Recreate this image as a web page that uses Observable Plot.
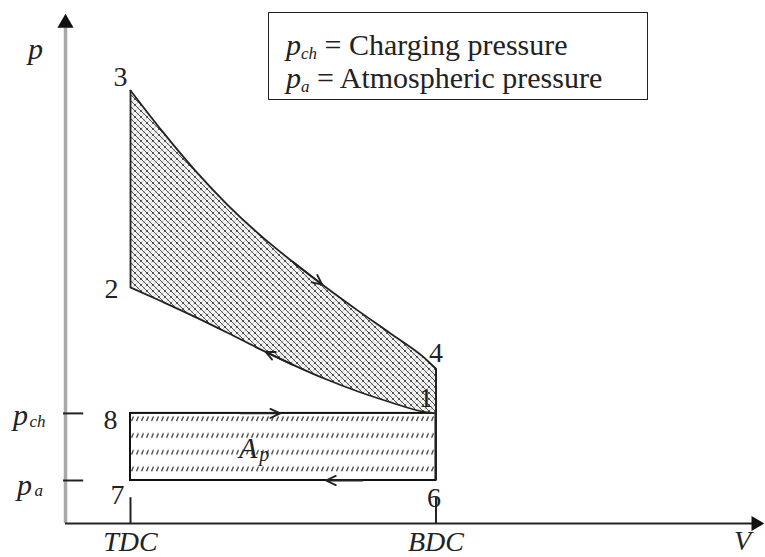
<!DOCTYPE html>
<html>
<head>
<meta charset="utf-8">
<script src="https://cdn.jsdelivr.net/npm/d3@7"></script>
<script src="https://cdn.jsdelivr.net/npm/@observablehq/plot@0.6"></script>
<style>
  body { margin: 0; background: #fff; }
  #wrap { position: relative; width: 765px; height: 557px; }
  #legend {
    position: absolute; left: 268px; top: 12px; width: 380px; height: 88px;
    border: 1.6px solid #222; box-sizing: border-box;
    font-family: "Liberation Serif", "Times New Roman", serif; font-size: 30px;
    line-height: 33px; padding: 15px 0 0 17px; color: #222; white-space: nowrap;
  }
  #legend sub { font-size: 17px; font-style: italic; vertical-align: -4px; line-height: 0; }
</style>
</head>
<body>
<div id="wrap">
  <div id="chart"></div>
  <div id="legend">
    <div><i>p</i><sub>ch</sub> = Charging pressure</div>
    <div><i>p</i><sub>a</sub> = Atmospheric pressure</div>
  </div>
</div>
<script>
// ---- data ----
const V_TDC = 1, V_BDC = 5.7;              // volume (units of clearance volume)
const p_a = 1, p_ch = 2.56;                // pressures (units of p_a)
const V_pts = [1, 1.5, 2, 2.5, 3, 3.5, 4, 4.5, 5, 5.5, 5.7];
const p_expansion  = [10.07, 9.1, 8.2, 7.4, 6.7, 6.08, 5.5, 4.95, 4.42, 3.88, 3.60]; // 3 -> 4
const p_compression = [5.49, 5.15, 4.80, 4.43, 4.05, 3.69, 3.36, 3.07, 2.82, 2.60, 2.56]; // 1 -> 2
const xTickLabels = ["TDC", "BDC"];
const yTickMain = ["p", "p"];
const yTickSub = ["ch", "a"];
const pointNames = ["1", "2", "3", "4", "6", "7", "8"];

const V_max = 10.77, p_max = 11.86;
const p2 = p_compression[0], p3 = p_expansion[0], p4 = p_expansion[p_expansion.length - 1];

const cycle = V_pts.map((V, i) => ({V, lo: p_compression[i], hi: p_expansion[i]}));
const pointData = [
  {n: pointNames[0], V: V_BDC, p: p_ch, dx: -10, dy: -15},
  {n: pointNames[1], V: V_TDC, p: p2,   dx: -19, dy: 2},
  {n: pointNames[2], V: V_TDC, p: p3,   dx: -10, dy: -13},
  {n: pointNames[3], V: V_BDC, p: p4,   dx: 0,   dy: -16},
  {n: pointNames[4], V: V_BDC, p: p_a,  dx: -2,  dy: 18},
  {n: pointNames[5], V: V_TDC, p: p_a,  dx: -13, dy: 15},
  {n: pointNames[6], V: V_TDC, p: p_ch, dx: -20, dy: 7}
];
const serif = "Liberation Serif, Times New Roman, serif";
const mid = (a, b) => (a + b) / 2;
const curveArrows = [
  {x1: V_pts[5], y1: p_expansion[5], x2: V_pts[6] - 0.05, y2: p_expansion[6] + 0.055},
  {x1: V_pts[5], y1: p_compression[5], x2: V_pts[4] + 0.08, y2: p_compression[4] - 0.06},
  {x1: V_TDC + 0.36 * (V_BDC - V_TDC), y1: p_ch, x2: V_TDC + 0.49 * (V_BDC - V_TDC), y2: p_ch},
  {x1: V_TDC + 0.76 * (V_BDC - V_TDC), y1: p_a, x2: V_TDC + 0.64 * (V_BDC - V_TDC), y2: p_a}
];
const txt = {fontFamily: serif, fill: "#222", fontStyle: "italic"};

const svg = Plot.plot({
  width: 765, height: 557,
  marginLeft: 65, marginRight: 0, marginTop: 13, marginBottom: 34,
  x: {domain: [0, V_max], axis: null},
  y: {domain: [0, p_max], axis: null},
  style: {background: "white"},
  marks: [
    // pumping work rectangle
    Plot.rect([0], {x1: V_TDC, x2: V_BDC, y1: p_a, y2: p_ch, fill: "url(#pumpHatch)", stroke: "#111", strokeWidth: 2}),
    // cycle area
    Plot.areaY(cycle, {x: "V", y1: "lo", y2: "hi", fill: "url(#cycleHatch)", curve: "monotone-x"}),
    Plot.line(cycle, {x: "V", y: "hi", stroke: "#222", strokeWidth: 1.8, curve: "monotone-x"}),
    Plot.line(cycle, {x: "V", y: "lo", stroke: "#222", strokeWidth: 1.8, curve: "monotone-x"}),
    Plot.ruleX([V_TDC], {y1: p2, y2: p3, stroke: "#222", strokeWidth: 1.8}),
    Plot.ruleX([V_BDC], {y1: p_a, y2: p4, stroke: "#222", strokeWidth: 2}),
    // TDC / BDC ticks
    Plot.ruleX([V_TDC, V_BDC], {y1: 0, y2: 0.6, stroke: "#222", strokeWidth: 2}),
    // axes
    Plot.ruleX([0], {y1: 0, y2: 11.6, stroke: "#a8a8a8", strokeWidth: 3.5}),
    Plot.ruleY([0], {x1: 0, x2: 10.6, stroke: "#222", strokeWidth: 2}),
    Plot.dot([{x: 0, y: 11.64}], {x: "x", y: "y", symbol: "triangle", r: 6, fill: "#111", stroke: "none"}),
    Plot.dot([{x: 10.62, y: 0}], {x: "x", y: "y", symbol: "triangle", r: 5.5, rotate: 90, fill: "#111", stroke: "none"}),
    // p ticks
    Plot.ruleY([p_ch, p_a], {x1: -0.03, x2: 0.28, stroke: "#222", strokeWidth: 2}),
    // direction arrows
    Plot.arrow(curveArrows, {x1: "x1", y1: "y1", x2: "x2", y2: "y2", stroke: "#222", strokeWidth: 1.8, headLength: 9, headAngle: 50}),
    // point labels
    Plot.text(pointData, {x: "V", y: "p", text: "n", fontSize: 28, fontFamily: serif, fill: "#222"}),
    // axis labels
    Plot.text([V_TDC, V_BDC], {x: d => d, y: 0, text: (d, i) => xTickLabels[i], dy: 19, fontSize: 28, ...txt}),
    Plot.text(["V"], {x: V_max, y: 0, text: d => d, dx: -23, dy: 18, fontSize: 28, ...txt}),
    Plot.text(["p"], {x: 0, y: p_max, text: d => d, dx: -30, dy: 36, fontSize: 30, ...txt}),
    Plot.text([p_ch], {x: 0, y: d => d, text: d => yTickMain[0], dx: -45, dy: 2, fontSize: 30, ...txt}),
    Plot.text([p_ch], {x: 0, y: d => d, text: d => yTickSub[0], dx: -36, dy: 8, textAnchor: "start", fontSize: 17, ...txt}),
    Plot.text([p_a], {x: 0, y: d => d, text: d => yTickMain[1], dx: -41, dy: 5, fontSize: 30, ...txt}),
    Plot.text([p_a], {x: 0, y: d => d, text: d => yTickSub[1], dx: -31, dy: 10, textAnchor: "start", fontSize: 17, ...txt}),
    // A_p label
    Plot.text(["A"], {x: mid(V_TDC, V_BDC), y: mid(p_a, p_ch), text: d => d, dx: -35, dy: 1, fontSize: 30, ...txt}),
    Plot.text(["p"], {x: mid(V_TDC, V_BDC), y: mid(p_a, p_ch), text: d => d, dx: -19, dy: 8, fontSize: 20, ...txt})
  ]
});

const defs = d3.select(svg).insert("defs", ":first-child");
const ch = defs.append("pattern").attr("id", "cycleHatch").attr("patternUnits", "userSpaceOnUse")
  .attr("width", 6).attr("height", 6);
ch.append("rect").attr("width", 6).attr("height", 6).attr("fill", "#f4f4f4");
ch.append("path").attr("d", "M0,6 L6,0 M-1,1 L1,-1 M5,7 L7,5").attr("stroke", "#c4c4c4").attr("stroke-width", 0.9);
ch.append("path").attr("d", "M0,0 L6,6 M-1,5 L1,7 M5,-1 L7,1").attr("stroke", "#555").attr("stroke-width", 1);
ch.append("circle").attr("cx", 3).attr("cy", 3).attr("r", 0.9).attr("fill", "#333");
const ph = defs.append("pattern").attr("id", "pumpHatch").attr("patternUnits", "userSpaceOnUse")
  .attr("x", 0).attr("y", 413).attr("width", 5).attr("height", 16.75);
ph.append("rect").attr("width", 5).attr("height", 16.75).attr("fill", "white");
ph.append("path").attr("d", "M1.5,8 L3.5,3.5").attr("stroke", "#444").attr("stroke-width", 1.3);

document.getElementById("chart").appendChild(svg);

// point label offsets (dx/dy per datum)
const labelNodes = d3.select(svg).selectAll("g[aria-label='text']").nodes()[0];
d3.select(labelNodes).selectAll("text").each(function(_, i) {
  const d = pointData[i];
  const t = d3.select(this);
  const tr = t.attr("transform") || "";
  t.attr("transform", tr + ` translate(${d.dx},${d.dy})`);
});
</script>
</body>
</html>
